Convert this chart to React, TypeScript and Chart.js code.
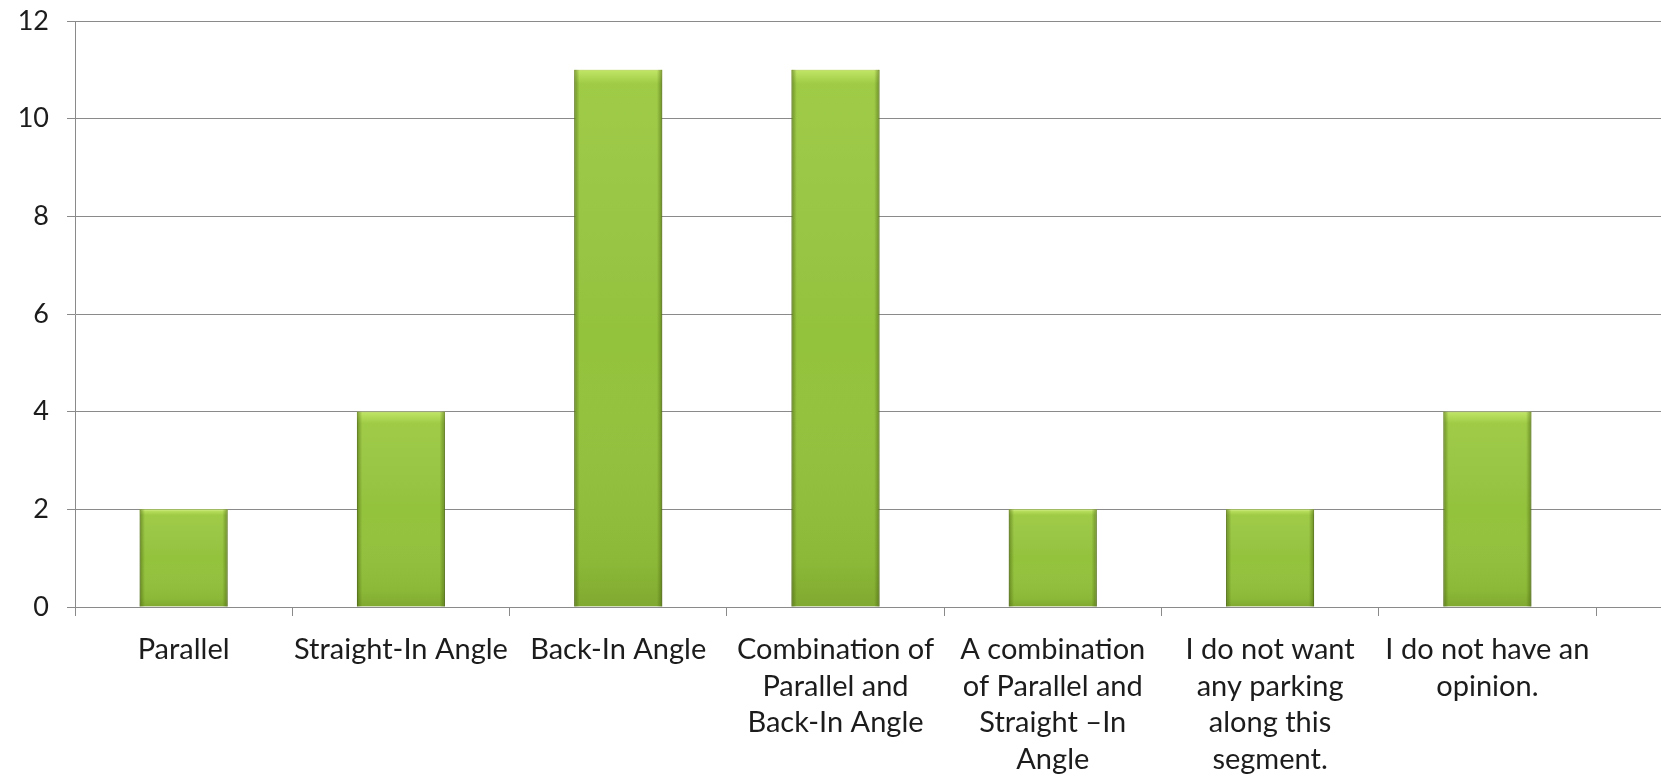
import { useEffect, useRef } from 'react';
import { Chart, registerables } from 'chart.js';

Chart.register(...registerables);

const categories: (string | string[])[] = [
  'Parallel',
  'Straight-In Angle',
  'Back-In Angle',
  ['Combination of', 'Parallel and', 'Back-In Angle'],
  ['A combination', 'of Parallel and', 'Straight \u2013In', 'Angle'],
  ['I do not want', 'any parking', 'along this', 'segment.'],
  ['I do not have an', 'opinion.'],
];
const responses = [2, 4, 11, 11, 2, 2, 4];
const yMin = 0;
const yMax = 12;
const yStep = 2;

const GRID = '#8a8a8a';
const TEXT = '#1c1c1c';
const FONT = 'Lato, "Open Sans", sans-serif';

const extendGrid = {
  id: 'extendGrid',
  beforeDatasetsDraw(chart: any) {
    const y = chart.scales.y;
    const { right } = chart.chartArea;
    const ctx = chart.ctx;
    ctx.save();
    ctx.strokeStyle = GRID;
    ctx.lineWidth = 1;
    y.ticks.forEach((_t: any, i: number) => {
      const py = Math.round(y.getPixelForTick(i) - 0.5) + 0.5;
      ctx.beginPath();
      ctx.moveTo(right, py);
      ctx.lineTo(chart.width, py);
      ctx.stroke();
    });
    ctx.restore();
  },
};

const barShade = {
  id: 'barShade',
  afterDatasetsDraw(chart: any) {
    const meta = chart.getDatasetMeta(0);
    const ctx = chart.ctx;
    ctx.save();
    meta.data.forEach((bar: any) => {
      const { x, y, width, base } = bar.getProps(['x', 'y', 'width', 'base'], true);
      const left = x - width / 2;
      const h = base - y;
      const gv = ctx.createLinearGradient(0, y, 0, base);
      gv.addColorStop(0, 'rgba(225,255,130,0.6)');
      gv.addColorStop(Math.min(0.06, 14 / h), 'rgba(225,255,130,0.15)');
      gv.addColorStop(0.5, 'rgba(255,255,255,0)');
      gv.addColorStop(0.92, 'rgba(50,70,0,0.08)');
      gv.addColorStop(1, 'rgba(50,70,0,0.2)');
      ctx.fillStyle = gv;
      ctx.fillRect(left, y, width, h);
      const gh = ctx.createLinearGradient(left, 0, left + width, 0);
      gh.addColorStop(0, 'rgba(60,85,5,0.5)');
      gh.addColorStop(0.06, 'rgba(60,85,5,0)');
      gh.addColorStop(0.94, 'rgba(60,85,5,0)');
      gh.addColorStop(1, 'rgba(60,85,5,0.5)');
      ctx.fillStyle = gh;
      ctx.fillRect(left, y, width, h);
    });
    ctx.restore();
  },
};

export default function App() {
  const ref = useRef<HTMLCanvasElement | null>(null);
  useEffect(() => {
    if (!ref.current) return;
    const chart = new Chart(ref.current, {
      type: 'bar',
      data: {
        labels: categories as any,
        datasets: [
          {
            data: responses,
            backgroundColor: '#93c23c',
            borderColor: '#6f9027',
            borderWidth: 1,
            barPercentage: 0.405,
            categoryPercentage: 1,
          },
        ],
      },
      options: {
        animation: false,
        responsive: false,
        maintainAspectRatio: false,
        layout: { padding: { top: 21, right: 65, left: 0, bottom: 0 } },
        plugins: { legend: { display: false }, tooltip: { enabled: false } },
        scales: {
          x: {
            grid: {
              display: true,
              drawOnChartArea: false,
              drawTicks: true,
              tickLength: 9,
              color: GRID,
              offset: true,
            },
            border: { color: GRID },
            ticks: {
              font: { family: FONT, size: 29, lineHeight: 1.27 },
              color: TEXT,
              maxRotation: 0,
              minRotation: 0,
              autoSkip: false,
              padding: 15,
            },
            afterFit: (s: any) => {
              s.height = 174;
            },
          },
          y: {
            min: yMin,
            max: yMax,
            ticks: {
              stepSize: yStep,
              font: { family: FONT, size: 27 },
              color: TEXT,
              padding: 18,
            },
            grid: { color: GRID, tickLength: 8 },
            border: { color: GRID },
            afterFit: (s: any) => {
              s.width = 75;
              s.paddingTop = 0;
              s.paddingBottom = 0;
            },
          },
        },
      },
      plugins: [extendGrid, barShade],
    });
    return () => chart.destroy();
  }, []);
  return (
    <div style={{ position: 'fixed', left: 0, top: 0, width: 1661, height: 781, background: '#fff' }}>
      <canvas ref={ref} width={1661} height={781} style={{ display: 'block', width: 1661, height: 781 }} />
    </div>
  );
}
